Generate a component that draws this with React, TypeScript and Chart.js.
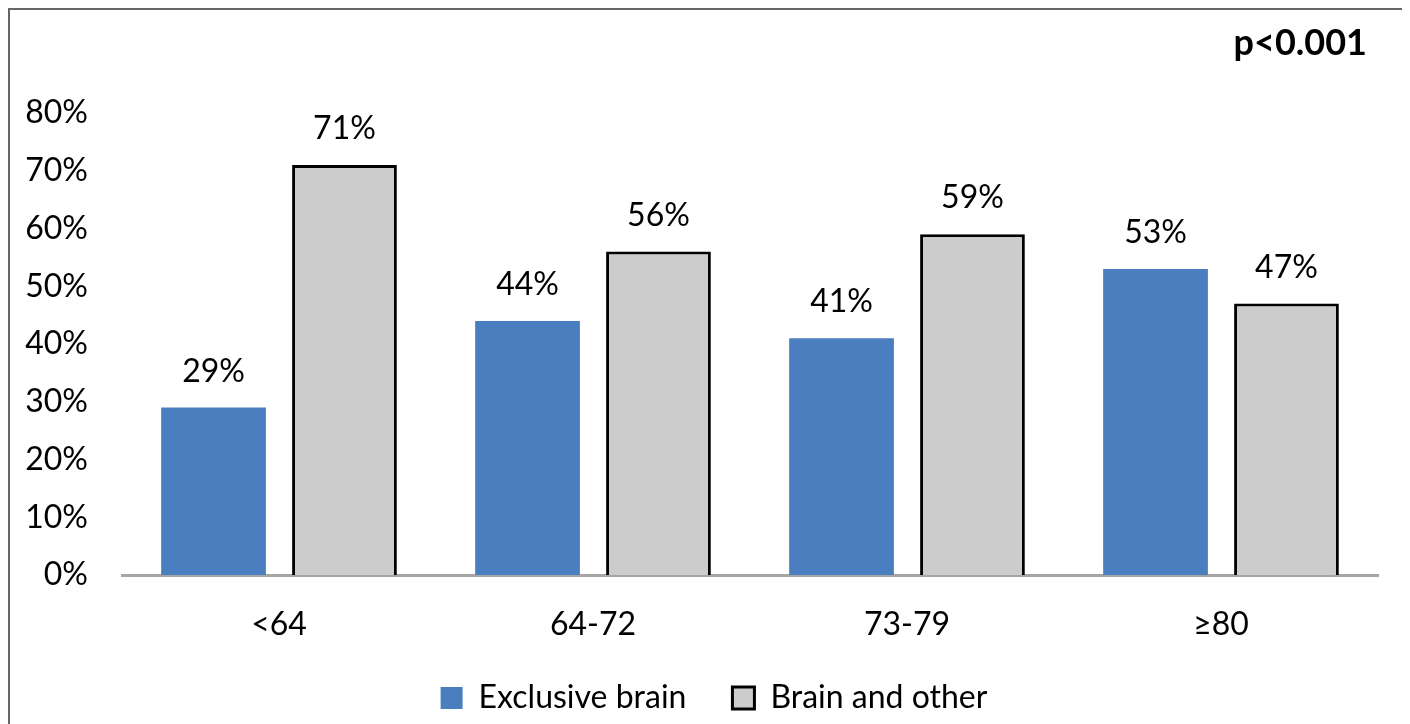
import React, { useEffect, useRef } from "react";
import { Chart, registerables } from "chart.js";

Chart.register(...registerables);

const ageGroups = ["<64", "64-72", "73-79", "≥80"];
const exclusiveBrain = [29, 44, 41, 53];
const brainAndOther = [71, 56, 59, 47];
const yTicks = [0, 10, 20, 30, 40, 50, 60, 70, 80];
const pValueText = "p<0.001";

const FONT = "Lato, 'Open Sans', sans-serif";
const FONT_SIZE = 32;

// Writes each bar's percentage just above it, plus the p-value in the corner
const labelsPlugin = {
  id: "barLabels",
  afterDatasetsDraw(chart: any) {
    const ctx = chart.ctx;
    ctx.save();
    ctx.fillStyle = "#000";
    ctx.font = `${FONT_SIZE}px ${FONT}`;
    ctx.textAlign = "center";
    ctx.textBaseline = "alphabetic";
    chart.data.datasets.forEach((ds: any, di: number) => {
      const meta = chart.getDatasetMeta(di);
      meta.data.forEach((bar: any, i: number) => {
        ctx.fillText(`${ds.data[i]}%`, bar.x, bar.y - 26);
      });
    });
    ctx.font = `bold 36px ${FONT}`;
    ctx.textAlign = "right";
    ctx.fillText(pValueText, chart.chartArea.right - 11, 45);
    ctx.restore();
  },
};

export default function App() {
  const canvasRef = useRef<HTMLCanvasElement | null>(null);

  useEffect(() => {
    if (!canvasRef.current) return;
    const chart = new Chart(canvasRef.current, {
      type: "bar",
      data: {
        labels: ageGroups,
        datasets: [
          {
            label: "Exclusive brain",
            data: exclusiveBrain,
            backgroundColor: "#4a7ebf",
            borderWidth: 0,
            categoryPercentage: 0.834,
            barPercentage: 0.8,
            yAxisID: "y",
          },
          {
            label: "Brain and other",
            data: brainAndOther,
            backgroundColor: "#cccccc",
            borderColor: "#000000",
            borderWidth: 3,
            categoryPercentage: 0.834,
            barPercentage: 0.8,
            yAxisID: "y",
          },
        ],
      },
      options: {
        animation: false,
        responsive: false,
        maintainAspectRatio: false,
        layout: { padding: { top: 103, right: 0, bottom: 6, left: 13 } },
        plugins: {
          tooltip: { enabled: false },
          legend: {
            position: "bottom",
            labels: {
              color: "#000",
              font: { family: FONT, size: FONT_SIZE },
              boxWidth: 22,
              boxHeight: 22,
              padding: 46,
            },
          },
        },
        scales: {
          x: {
            grid: { display: false, drawTicks: false },
            border: { display: true, color: "#a6a6a6", width: 3 },
            ticks: { color: "#000", font: { family: FONT, size: FONT_SIZE }, padding: 30 },
            afterFit: (scale: any) => {
              scale.height = 61;
            },
          },
          y: {
            min: 0,
            max: 80,
            afterBuildTicks: (scale: any) => {
              scale.ticks = yTicks.map((v) => ({ value: v }));
            },
            grid: { display: false, drawTicks: false },
            border: { display: false },
            ticks: {
              color: "#000",
              font: { family: FONT, size: FONT_SIZE },
              padding: 34,
              callback: (v: any) => `${v}%`,
            },
            afterFit: (scale: any) => {
              scale.width = 99;
            },
          },
          // empty spacer on the right-hand side of the plot
          yRight: {
            position: "right",
            min: 0,
            max: 80,
            grid: { display: false, drawTicks: false },
            border: { display: false },
            ticks: { display: false },
            afterFit: (scale: any) => {
              scale.width = 27;
            },
          },
        },
      },
      plugins: [labelsPlugin],
    });
    return () => chart.destroy();
  }, []);

  return (
    <div
      style={{
        boxSizing: "border-box",
        width: 1399,
        height: 740,
        border: "2px solid #666666",
        background: "#fff",
      }}
    >
      <canvas ref={canvasRef} width={1395} height={720} style={{ display: "block" }} />
    </div>
  );
}
